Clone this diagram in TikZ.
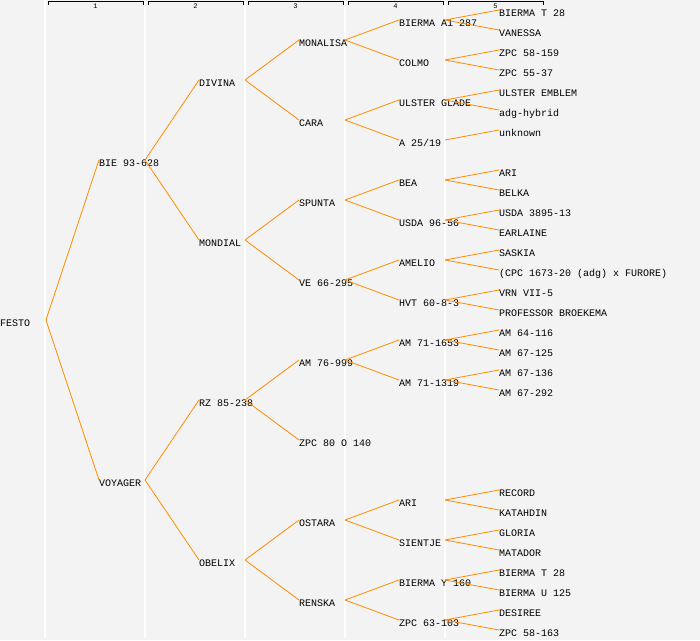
\documentclass[tikz,border=0pt]{standalone}
\usepackage{fontspec}
\setmonofont{Liberation Mono}
\usepackage{tikz}

\definecolor{panel}{RGB}{243,243,243}
\definecolor{branch}{RGB}{255,140,0}

\tikzset{
  plant/.style={anchor=west, inner sep=0pt, text height=12pt, text depth=0pt,
    font=\ttfamily\fontsize{10}{12}\selectfont},
  cross/.style={draw=branch, line width=0.8pt},
  gen/.style={font=\ttfamily\fontsize{7}{8}\selectfont, inner sep=0pt}
}

\begin{document}
\begin{tikzpicture}[x=1pt, y=-1pt]
        % Background and generation columns
        \fill[panel] (0,0) rectangle (700,640);
        \useasboundingbox (0,0) rectangle (700,640);
        \foreach \k in {1,...,5} {
            \draw[white, line width=1.2pt] (45+100*\k-100,0) -- (45+100*\k-100,638);
            \draw[black, line width=0.8pt] (48+100*\k-100,4.5) -- (48+100*\k-100,1.5)
                -- (143+100*\k-100,1.5) -- (143+100*\k-100,4.5);
            \node[gen] (g\k) at (95.5+100*\k-100,6.5) {\k};
        }

        % Root and parents
        \node[plant] (festo) at (0,320) {FESTO};
        \node[plant] (bie) at (99,160) {BIE 93-628};
        \node[plant] (voyager) at (99,480) {VOYAGER};

        % Grandparents
        \node[plant] (divina) at (199,80) {DIVINA};
        \node[plant] (mondial) at (199,240) {MONDIAL};
        \node[plant] (rz) at (199,400) {RZ 85-238};
        \node[plant] (obelix) at (199,560) {OBELIX};

        % Generation 3
        \node[plant] (monalisa) at (299,40) {MONALISA};
        \node[plant] (cara) at (299,120) {CARA};
        \node[plant] (spunta) at (299,200) {SPUNTA};
        \node[plant] (ve) at (299,280) {VE 66-295};
        \node[plant] (am76) at (299,360) {AM 76-999};
        \node[plant] (zpc80) at (299,440) {ZPC 80 O 140};
        \node[plant] (ostara) at (299,520) {OSTARA};
        \node[plant] (renska) at (299,600) {RENSKA};

        % Generation 4
        \node[plant] (bierma) at (399,20) {BIERMA A1 287};
        \node[plant] (colmo) at (399,60) {COLMO};
        \node[plant] (ulsterg) at (399,100) {ULSTER GLADE};
        \node[plant] (a2519) at (399,140) {A 25/19};
        \node[plant] (bea) at (399,180) {BEA};
        \node[plant] (usda96) at (399,220) {USDA 96-56};
        \node[plant] (amelio) at (399,260) {AMELIO};
        \node[plant] (hvt) at (399,300) {HVT 60-8-3};
        \node[plant] (am1653) at (399,340) {AM 71-1653};
        \node[plant] (am1319) at (399,380) {AM 71-1319};
        \node[plant] (ari) at (399,500) {ARI};
        \node[plant] (sientje) at (399,540) {SIENTJE};
        \node[plant] (biermay) at (399,580) {BIERMA Y 160};
        \node[plant] (zpc63) at (399,620) {ZPC 63-103};

        % Generation 5
        \node[plant] (biermat) at (499,10) {BIERMA T 28};
        \node[plant] (vanessa) at (499,30) {VANESSA};
        \node[plant] (zpc159) at (499,50) {ZPC 58-159};
        \node[plant] (zpc55) at (499,70) {ZPC 55-37};
        \node[plant] (ulstere) at (499,90) {ULSTER EMBLEM};
        \node[plant] (adg) at (499,110) {adg-hybrid};
        \node[plant] (unknown) at (499,130) {unknown};
        \node[plant] (arib) at (499,170) {ARI};
        \node[plant] (belka) at (499,190) {BELKA};
        \node[plant] (usda3895) at (499,210) {USDA 3895-13};
        \node[plant] (earlaine) at (499,230) {EARLAINE};
        \node[plant] (saskia) at (499,250) {SASKIA};
        \node[plant] (cpc) at (499,270) {(CPC 1673-20 (adg) x FURORE)};
        \node[plant] (vrn) at (499,290) {VRN VII-5};
        \node[plant] (broekema) at (499,310) {PROFESSOR BROEKEMA};
        \node[plant] (am64) at (499,330) {AM 64-116};
        \node[plant] (am125) at (499,350) {AM 67-125};
        \node[plant] (am136) at (499,370) {AM 67-136};
        \node[plant] (am292) at (499,390) {AM 67-292};
        \node[plant] (record) at (499,490) {RECORD};
        \node[plant] (katahdin) at (499,510) {KATAHDIN};
        \node[plant] (gloria) at (499,530) {GLORIA};
        \node[plant] (matador) at (499,550) {MATADOR};
        \node[plant] (biermatb) at (499,570) {BIERMA T 28};
        \node[plant] (biermau) at (499,590) {BIERMA U 125};
        \node[plant] (desiree) at (499,610) {DESIREE};
        \node[plant] (zpc58) at (499,630) {ZPC 58-163};

        % Pedigree lines
        \foreach \p/\c in {festo/bie, festo/voyager,
            bie/divina, bie/mondial, voyager/rz, voyager/obelix,
            divina/monalisa, divina/cara, mondial/spunta, mondial/ve,
            rz/am76, rz/zpc80, obelix/ostara, obelix/renska,
            monalisa/bierma, monalisa/colmo, cara/ulsterg, cara/a2519,
            spunta/bea, spunta/usda96, ve/amelio, ve/hvt,
            am76/am1653, am76/am1319, ostara/ari, ostara/sientje,
            renska/biermay, renska/zpc63,
            bierma/biermat, bierma/vanessa, colmo/zpc159, colmo/zpc55,
            ulsterg/ulstere, ulsterg/adg, a2519/unknown,
            bea/arib, bea/belka, usda96/usda3895, usda96/earlaine,
            amelio/saskia, amelio/cpc, hvt/vrn, hvt/broekema,
            am1653/am64, am1653/am125, am1319/am136, am1319/am292,
            ari/record, ari/katahdin, sientje/gloria, sientje/matador,
            biermay/biermatb, biermay/biermau, zpc63/desiree, zpc63/zpc58}
            \draw[cross] ([xshift=46pt]\p.west) -- (\c.west);
    \end{tikzpicture}
\end{document}
